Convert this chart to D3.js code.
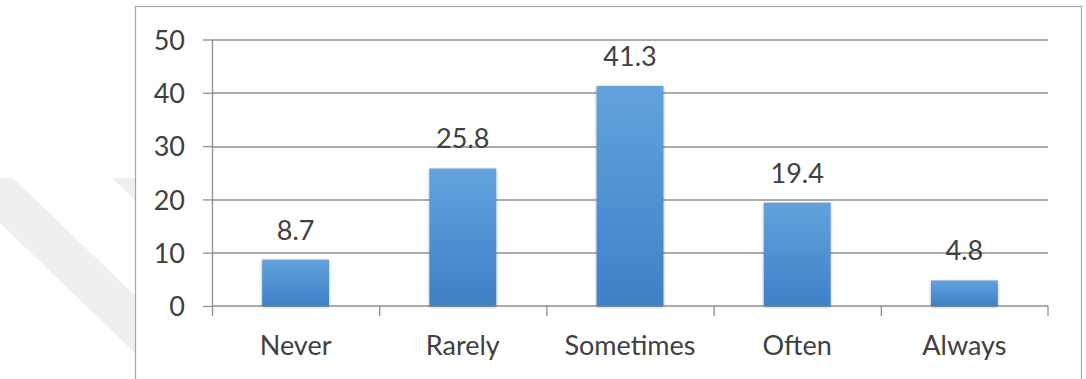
<!DOCTYPE html>
<html>
<head>
<meta charset="utf-8">
<script src="https://cdn.jsdelivr.net/npm/d3@7"></script>
<style>
    body { margin: 0; background: #fff; }
    svg { display: block; }
    .axis text { font-family: Lato, "Open Sans", sans-serif; font-size: 27px; fill: #404040; }
</style>
</head>
<body>
<div id="chart"></div>
<script>

// =====================================================================================================================
// DATA
// =====================================================================================================================

var categories = ["Never", "Rarely", "Sometimes", "Often", "Always"];
var values = [8.7, 25.8, 41.3, 19.4, 4.8];
var yTicks = [0, 10, 20, 30, 40, 50];

// =====================================================================================================================
// LAYOUT
// =====================================================================================================================

var W = 1086, H = 379;
var margin = {top: 39.5, left: 212, right: 38, bottom: 73};
var innerW = W - margin.left - margin.right,
    innerH = H - margin.top - margin.bottom;

var svg = d3.select("#chart").append("svg")
    .attr("width", W)
    .attr("height", H);

var defs = svg.append("defs");

var grad = defs.append("linearGradient")
    .attr("id", "barGrad")
    .attr("x1", 0).attr("y1", 0).attr("x2", 0).attr("y2", 1);
grad.append("stop").attr("offset", "0%").attr("stop-color", "#62a2dd");
grad.append("stop").attr("offset", "100%").attr("stop-color", "#3f80c7");

var shadow = defs.append("filter")
    .attr("id", "barShadow")
    .attr("x", "-20%").attr("y", "-20%").attr("width", "140%").attr("height", "140%");
shadow.append("feGaussianBlur").attr("in", "SourceAlpha").attr("stdDeviation", 1.5).attr("result", "blur");
shadow.append("feOffset").attr("in", "blur").attr("dx", 0).attr("dy", 1).attr("result", "off");
shadow.append("feComponentTransfer").attr("in", "off").attr("result", "soft")
    .append("feFuncA").attr("type", "linear").attr("slope", 0.35);
var merge = shadow.append("feMerge");
merge.append("feMergeNode").attr("in", "soft");
merge.append("feMergeNode").attr("in", "SourceGraphic");

// watermark stripes in the page background
svg.append("polygon")
    .attr("points", "0,178 13,178 150,310 150,358 135,353 0,223")
    .attr("fill", "#efefef");
svg.append("polygon")
    .attr("points", "112,178 150,178 150,215")
    .attr("fill", "#efefef");

// chart frame
svg.append("rect")
    .attr("x", 135.5).attr("y", 6.5)
    .attr("width", 1081 - 135).attr("height", 400)
    .attr("fill", "#fff")
    .attr("stroke", "#a6a6a6")
    .attr("stroke-width", 1.2);

var g = svg.append("g")
    .attr("transform", "translate(" + margin.left + "," + margin.top + ")");

// set the ranges
var x = d3.scaleBand()
    .domain(categories)
    .range([0, innerW])
    .paddingInner(0.6)
    .paddingOuter(0.3);

var xb = d3.scaleBand()
    .domain(categories)
    .range([0, innerW]);

var y = d3.scaleLinear()
    .domain([0, 50])
    .range([innerH, 0]);

// gridlines
g.append("g")
    .selectAll("line")
    .data(yTicks.filter(function(d) { return d > 0; }))
    .enter().append("line")
    .attr("x1", 0).attr("x2", innerW)
    .attr("y1", function(d) { return Math.round(y(d)) + 0.5; })
    .attr("y2", function(d) { return Math.round(y(d)) + 0.5; })
    .attr("stroke", "#8f8f8f")
    .attr("stroke-width", 1.3);

// y axis
var yAxis = g.append("g")
    .attr("class", "axis")
    .call(d3.axisLeft(y).tickValues(yTicks).tickSize(9).tickPadding(18));
yAxis.selectAll("line").attr("stroke", "#8f8f8f").attr("stroke-width", 1.3);
yAxis.select(".domain").attr("stroke", "#8f8f8f").attr("stroke-width", 1.3)
    .attr("d", "M0.5,0V" + innerH);
yAxis.selectAll("text").attr("dy", "0.36em");

// x axis with boundary ticks
var xAxis = g.append("g")
    .attr("class", "axis")
    .attr("transform", "translate(0," + innerH + ")");
xAxis.append("line")
    .attr("x1", 0).attr("x2", innerW)
    .attr("stroke", "#8f8f8f").attr("stroke-width", 1.3);
xAxis.selectAll(".bound")
    .data(categories.concat(["_end"]))
    .enter().append("line")
    .attr("class", "bound")
    .attr("x1", function(d, i) { return i < categories.length ? xb(d) + 0.5 : innerW; })
    .attr("x2", function(d, i) { return i < categories.length ? xb(d) + 0.5 : innerW; })
    .attr("y1", 0).attr("y2", 10)
    .attr("stroke", "#8f8f8f").attr("stroke-width", 1.3);
xAxis.selectAll(".cat")
    .data(categories)
    .enter().append("text")
    .attr("class", "cat")
    .attr("x", function(d) { return xb(d) + xb.bandwidth() / 2; })
    .attr("y", 49)
    .attr("text-anchor", "middle")
    .text(function(d) { return d; });

// bars
var data = categories.map(function(c, i) { return {cat: c, value: values[i]}; });

g.selectAll(".bar")
    .data(data)
    .enter().append("rect")
    .attr("class", "bar")
    .attr("x", function(d) { return x(d.cat); })
    .attr("y", function(d) { return y(d.value); })
    .attr("width", x.bandwidth())
    .attr("height", function(d) { return innerH - y(d.value); })
    .attr("fill", "url(#barGrad)")
    .attr("filter", "url(#barShadow)");

// value labels
g.append("g")
    .attr("class", "axis")
    .selectAll("text")
    .data(data)
    .enter().append("text")
    .attr("x", function(d) { return x(d.cat) + x.bandwidth() / 2; })
    .attr("y", function(d) { return y(d.value) - 20; })
    .attr("text-anchor", "middle")
    .text(function(d) { return d.value.toFixed(1); });

</script>
</body>
</html>
